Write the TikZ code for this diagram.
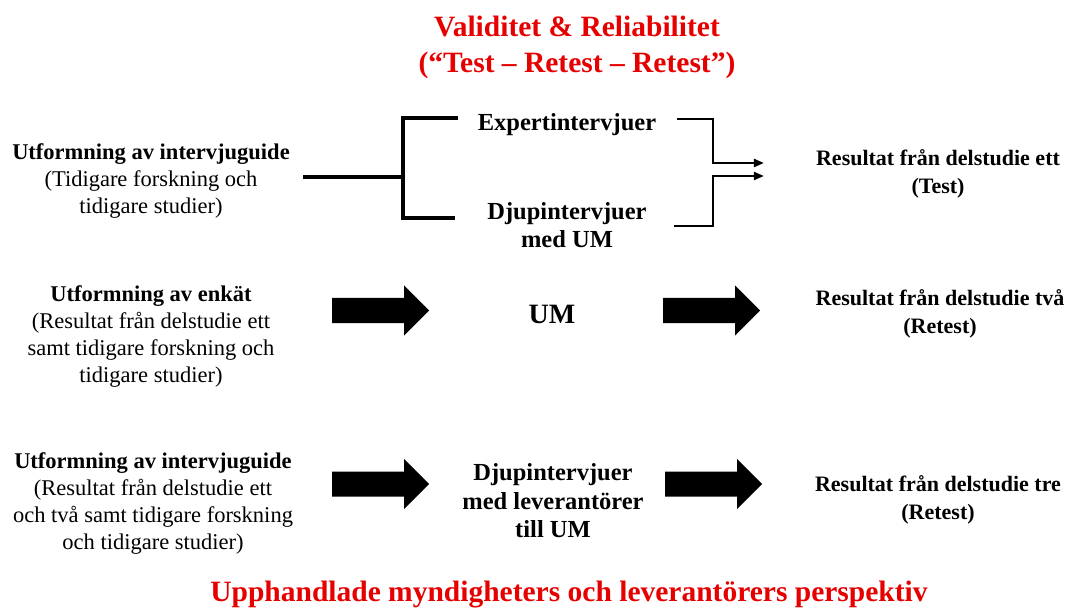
\documentclass[tikz,border=0pt]{standalone}
\usepackage{fontspec}
\setmainfont{Liberation Serif}
\usetikzlibrary{arrows.meta,positioning}
\definecolor{signal}{RGB}{230,0,0}
\tikzset{
  >={Triangle[length=10pt,width=8pt]},
  rubrik/.style={text=signal,font=\fontsize{29.5}{36}\selectfont\bfseries,align=center,inner sep=0pt},
  ledtext/.style={font=\fontsize{22.5}{27}\selectfont,align=center,inner sep=2pt},
  mitt/.style={font=\fontsize{24.5}{28.5}\selectfont\bfseries,align=center,inner sep=2pt},
  resultat/.style={font=\fontsize{22}{28}\selectfont\bfseries,align=center,inner sep=2pt},
  grenlinje/.style={line width=4.8pt},
  samlinje/.style={line width=2.2pt},
  % blockpil
  pics/blockpil/.style={code={
    \fill[black] (0,-12.5) -- (72,-12.5) -- (72,-25) -- (97,0) -- (72,25) -- (72,12.5) -- (0,12.5) -- cycle;
  }},
}

\begin{document}
\begin{tikzpicture}[x=1pt,y=-1pt]
    \useasboundingbox[fill=white] (0,0) rectangle (1067,609);
    \node[rubrik] (titel) at (577,47) {Validitet \& Reliabilitet\\(“Test – Retest – Retest”)};
    % rad ett
    \node[ledtext] (guideA) at (151,181) {\textbf{Utformning av intervjuguide}\\(Tidigare forskning och\\tidigare studier)};
    \node[mitt] (expert) at (567,125) {Expertintervjuer};
    \node[mitt] (djup) at (567,225) {Djupintervjuer\\med UM};
    \node[resultat] (resA) at (938,174) {Resultat från delstudie ett\\(Test)};
    \coordinate (gren) at (403,177);
    \coordinate (hopA) at (713,163);
    \coordinate (hopB) at (713,176);
    \draw[grenlinje] ([xshift=11pt]guideA.east |- gren) -- (gren);
    \draw[grenlinje] (gren) |- ([xshift=-18pt,yshift=7pt]expert.west);
    \draw[grenlinje] (gren) |- ([xshift=-30pt,yshift=7pt]djup.west);
    \draw[samlinje,->] ([xshift=19pt,yshift=6pt]expert.east) -| (hopA) -- ([xshift=-50pt]hopA -| resA.west);
    \draw[samlinje,->] ([xshift=25pt,yshift=-1pt]djup.east) -| (hopB) -- ([xshift=-50pt]hopB -| resA.west);
    % rad tva
    \node[ledtext] (enkat) at (151,337) {\textbf{Utformning av enkät}\\(Resultat från delstudie ett\\samt tidigare forskning och\\tidigare studier)};
    \node[mitt,font=\fontsize{28}{32}\selectfont\bfseries] (um) at (552,314) {UM};
    \node[resultat] (resB) at (940,314) {Resultat från delstudie två\\(Retest)};
    \pic at (332,310.5) {blockpil};
    \pic at (663,310.5) {blockpil};
    % rad tre
    \node[ledtext] (guideB) at (153,504) {\textbf{Utformning av intervjuguide}\\(Resultat från delstudie ett\\och två samt tidigare forskning\\och tidigare studier)};
    \node[mitt] (djupLev) at (553,501) {Djupintervjuer\\med leverantörer\\till UM};
    \node[resultat] (resC) at (938,500) {Resultat från delstudie tre\\(Retest)};
    \pic at (332,484) {blockpil};
    \pic at (665,484) {blockpil};
    \node[rubrik,anchor=base] (persp) at (569,601) {Upphandlade myndigheters och leverantörers perspektiv};
  \end{tikzpicture}
\end{document}
